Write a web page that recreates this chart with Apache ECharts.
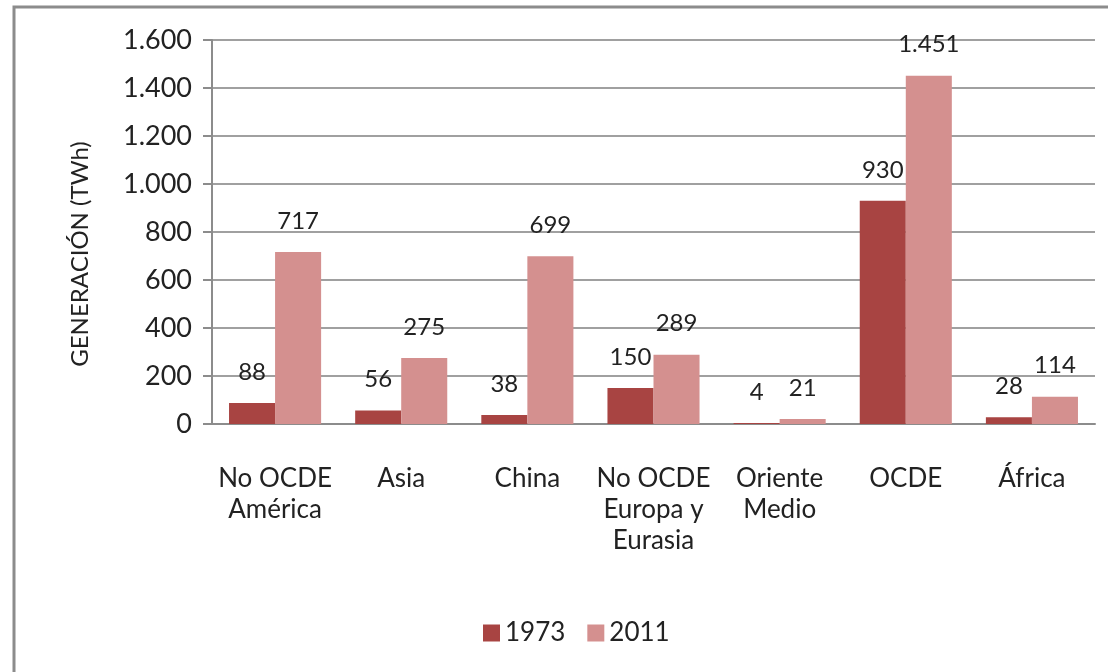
<!DOCTYPE html>
<html>
<head>
<meta charset="utf-8">
<script src="https://cdn.jsdelivr.net/npm/echarts@6/dist/echarts.min.js"></script>
<style>
  html, body { margin: 0; padding: 0; background: #fff; }
  #chart { width: 1108px; height: 672px; }
</style>
</head>
<body>
<div id="chart"></div>
<script>
// categorías y valores
const categories = ['No OCDE\nAmérica', 'Asia', 'China', 'No OCDE\nEuropa y\nEurasia', 'Oriente\nMedio', 'OCDE', 'África']
const values1973 = [88, 56, 38, 150, 4, 930, 28]
const values2011 = [717, 275, 699, 289, 21, 1451, 114]
const seriesNames = ['1973', '2011']

const fmt = v => v.toLocaleString('de-DE')

const chart = echarts.init(document.getElementById('chart'))

const _label = {
  show: true,
  position: 'top',
  distance: 19,
  color: '#222',
  fontFamily: 'Lato',
  fontSize: 24,
  formatter: p => fmt(p.value)
}

const option = {
  animation: false,
  graphic: [
    {
      type: 'rect',
      shape: { x: 14, y: 7, width: 1110, height: 680 },
      style: { fill: 'none', stroke: '#8c8c8c', lineWidth: 3 }
    }
  ],
  legend: {
    left: 478,
    top: 615,
    itemWidth: 17,
    itemHeight: 17,
    itemGap: 22,
    icon: 'rect',
    textStyle: { fontFamily: 'Lato', fontSize: 26, color: '#222' },
    data: seriesNames
  },
  grid: { left: 212, right: 13, top: 40, bottom: 248 },
  xAxis: {
    type: 'category',
    data: categories,
    axisLine: { lineStyle: { color: '#8c8c8c', width: 2 } },
    axisTick: { show: false },
    axisLabel: {
      margin: 39,
      interval: 0,
      fontFamily: 'Lato',
      fontSize: 26,
      lineHeight: 31,
      color: '#222'
    }
  },
  yAxis: {
    type: 'value',
    min: 0,
    max: 1600,
    interval: 200,
    name: 'GENERACIÓN (TWh)',
    nameLocation: 'middle',
    nameGap: 120,
    nameTextStyle: { fontFamily: 'Lato', fontSize: 24, color: '#222', padding: [0, 44, 0, 0] },
    axisLine: { show: true, lineStyle: { color: '#8c8c8c', width: 2 } },
    axisTick: { show: true, length: 9, lineStyle: { color: '#8c8c8c', width: 2 } },
    splitLine: { lineStyle: { color: '#a0a0a0', width: 2 } },
    axisLabel: {
      margin: 20,
      fontFamily: 'Lato',
      fontSize: 27,
      color: '#222',
      formatter: v => fmt(v)
    }
  },
  series: [
    {
      name: seriesNames[0],
      type: 'bar',
      data: values1973,
      barGap: '0%',
      barCategoryGap: '27%',
      itemStyle: { color: '#a84442' },
      label: _label
    },
    {
      name: seriesNames[1],
      type: 'bar',
      data: values2011,
      barGap: '0%',
      barCategoryGap: '27%',
      itemStyle: { color: '#d4908f' },
      label: _label
    }
  ]
}

chart.setOption(option)
</script>
</body>
</html>
